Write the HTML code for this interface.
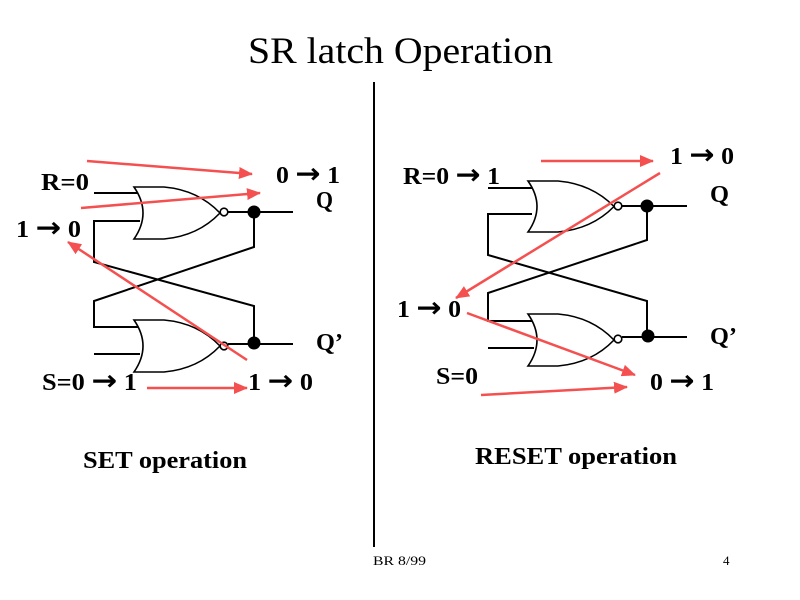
<!DOCTYPE html>
<html><head><meta charset="utf-8"><style>
html,body{margin:0;padding:0;background:#fff;width:800px;height:600px;overflow:hidden}
svg{display:block}
.t{font-family:"Liberation Serif","DejaVu Serif",serif;font-weight:bold;font-size:24px;fill:#000}
.a{font-family:"DejaVu Sans",sans-serif;font-weight:bold;font-size:28px}
</style></head><body>
<svg width="800" height="600" viewBox="0 0 800 600" xmlns="http://www.w3.org/2000/svg">
<defs>
<marker id="ah" viewBox="0 0 14 12" refX="13" refY="6" markerWidth="14" markerHeight="12" markerUnits="userSpaceOnUse" orient="auto">
<path d="M0,0 L14,6 L0,12 z" fill="#f55050"/>
</marker>
</defs>
<rect width="800" height="600" fill="#fff"/>
<text x="248" y="63" font-family="Liberation Serif, serif" font-size="37" textLength="305" lengthAdjust="spacingAndGlyphs">SR latch Operation</text>
<line x1="374" y1="82" x2="374" y2="547" stroke="#000" stroke-width="2"/>

<!-- LEFT CIRCUIT -->
<g fill="none" stroke="#000" stroke-width="2">
<polyline points="94,193 140,193"/>
<polyline points="140,221 94,221 94,262 254,306 254,343"/>
<polyline points="254,212 254,247 94,301 94,327 140,327"/>
<polyline points="94,354 140,354"/>
<line x1="228" y1="212" x2="293" y2="212"/>
<line x1="228" y1="344" x2="293" y2="344"/>
</g>
<g fill="#fff" stroke="#000" stroke-width="1.6">
<path d="M134,187 L164,187 Q198,190 220,213 Q198,236 164,239 L134,239 Q152,213 134,187 Z"/>
<path d="M134,320 L164,320 Q198,323 220,346 Q198,369 164,372 L134,372 Q152,346 134,320 Z"/>
<circle cx="224" cy="212" r="3.8"/>
<circle cx="224" cy="346" r="3.8"/>
</g>
<circle cx="254" cy="212" r="6.5" fill="#000"/>
<circle cx="254" cy="343" r="6.5" fill="#000"/>

<!-- RIGHT CIRCUIT -->
<g fill="none" stroke="#000" stroke-width="2">
<polyline points="488,188 532,188"/>
<polyline points="532,214 488,214 488,255 647,301 647,336"/>
<polyline points="647,206 647,240 488,293 488,321 534,321"/>
<polyline points="488,348 534,348"/>
<line x1="622" y1="206" x2="687" y2="206"/>
<line x1="622" y1="337" x2="687" y2="337"/>
</g>
<g fill="#fff" stroke="#000" stroke-width="1.6">
<path d="M528,181 L558,181 Q592,184 614,206.5 Q592,229 558,232 L528,232 Q546,206.5 528,181 Z"/>
<path d="M528,314 L558,314 Q592,317 614,340 Q592,363 558,366 L528,366 Q546,340 528,314 Z"/>
<circle cx="618" cy="206" r="3.8"/>
<circle cx="618" cy="339" r="3.8"/>
</g>
<circle cx="647" cy="206" r="6.5" fill="#000"/>
<circle cx="648" cy="336" r="6.5" fill="#000"/>

<!-- RED ARROWS -->
<g stroke="#f55050" stroke-width="2.5" fill="none" marker-end="url(#ah)">
<line x1="87" y1="161" x2="252" y2="174"/>
<line x1="81" y1="208" x2="260" y2="193"/>
<line x1="247" y1="360" x2="68" y2="242"/>
<line x1="147" y1="388" x2="247" y2="388"/>
<line x1="541" y1="161" x2="653" y2="161"/>
<line x1="660" y1="173" x2="456" y2="298"/>
<line x1="467" y1="313" x2="635" y2="375"/>
<line x1="481" y1="395" x2="627" y2="387"/>
</g>

<!-- LABELS LEFT -->
<text class="t" x="41" y="190" textLength="48" lengthAdjust="spacingAndGlyphs">R=0</text>
<text class="t" x="276" y="183" textLength="64" lengthAdjust="spacingAndGlyphs">0 <tspan class="a">→</tspan> 1</text>
<text class="t" x="316" y="208" textLength="17" lengthAdjust="spacingAndGlyphs">Q</text>
<text class="t" x="16" y="237" textLength="65" lengthAdjust="spacingAndGlyphs">1 <tspan class="a">→</tspan> 0</text>
<text class="t" x="316" y="350" textLength="27" lengthAdjust="spacingAndGlyphs">Q’</text>
<text class="t" x="42" y="390" textLength="95" lengthAdjust="spacingAndGlyphs">S=0 <tspan class="a">→</tspan> 1</text>
<text class="t" x="248" y="390" textLength="65" lengthAdjust="spacingAndGlyphs">1 <tspan class="a">→</tspan> 0</text>
<text class="t" x="83" y="468" textLength="164" lengthAdjust="spacingAndGlyphs">SET operation</text>

<!-- LABELS RIGHT -->
<text class="t" x="403" y="184" textLength="97" lengthAdjust="spacingAndGlyphs">R=0 <tspan class="a">→</tspan> 1</text>
<text class="t" x="670" y="164" textLength="64" lengthAdjust="spacingAndGlyphs">1 <tspan class="a">→</tspan> 0</text>
<text class="t" x="710" y="202" textLength="19" lengthAdjust="spacingAndGlyphs">Q</text>
<text class="t" x="397" y="317" textLength="64" lengthAdjust="spacingAndGlyphs">1 <tspan class="a">→</tspan> 0</text>
<text class="t" x="710" y="344" textLength="27" lengthAdjust="spacingAndGlyphs">Q’</text>
<text class="t" x="436" y="384" textLength="42" lengthAdjust="spacingAndGlyphs">S=0</text>
<text class="t" x="650" y="390" textLength="64" lengthAdjust="spacingAndGlyphs">0 <tspan class="a">→</tspan> 1</text>
<text class="t" x="475" y="464" textLength="202" lengthAdjust="spacingAndGlyphs">RESET operation</text>

<!-- FOOTER -->
<text x="373" y="565" font-family="Liberation Serif, serif" font-size="13" textLength="53" lengthAdjust="spacingAndGlyphs">BR 8/99</text>
<text x="723" y="565" font-family="Liberation Serif, serif" font-size="13">4</text>
</svg>
</body></html>
